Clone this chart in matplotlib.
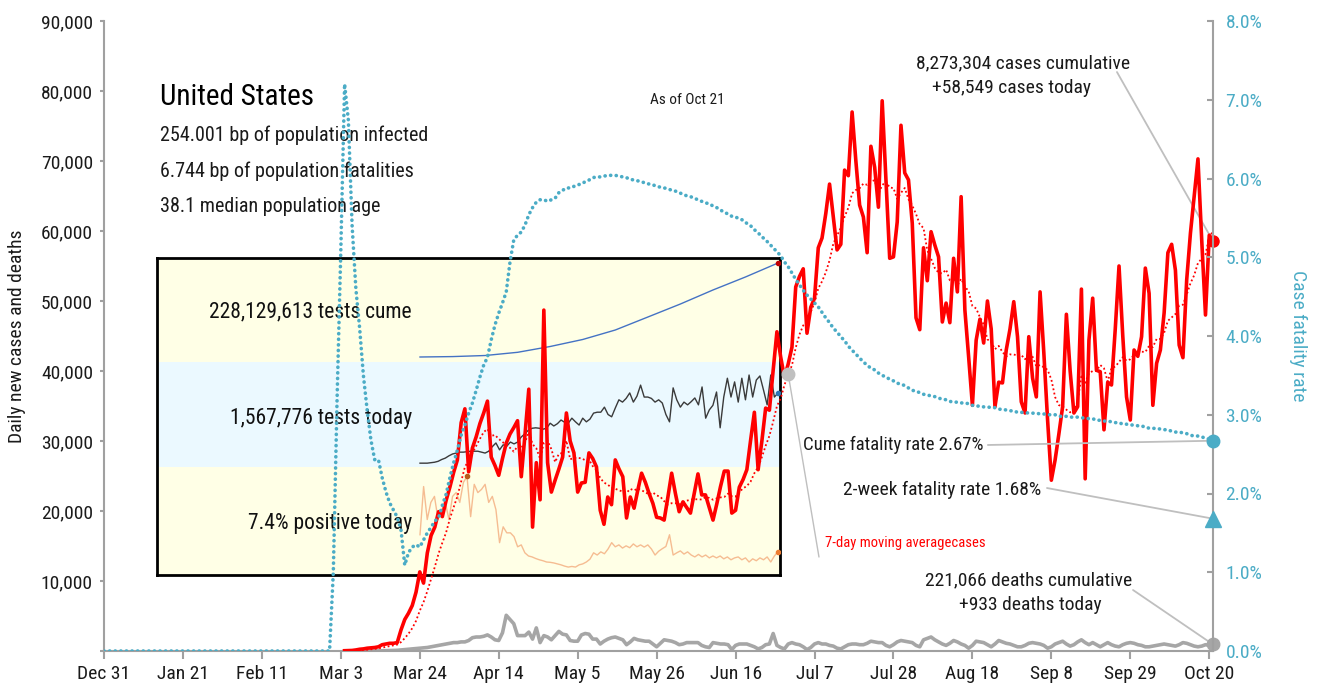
import matplotlib.pyplot as plt
import matplotlib.font_manager as fm
import matplotlib.ticker as mticker
import numpy as np
import pandas as pd

# =============================================================================
# DATA
# =============================================================================

# daily new cases, thousands, from Mar 4 to Oct 21
cases_start = "2020-03-04"
cases_k = [
    0.04, 0.06, 0.08, 0.15, 0.25, 0.3, 0.4, 0.45, 0.5, 0.6, 0.9, 1.0, 1.1, 1.1, 1.2,
    3.0, 4.5, 5.4, 6.5, 8.4, 11.3, 9.7, 14.0, 16.5, 17.7, 19.9, 19.2, 21.5, 23.4, 25.5,
    27.3, 32.6, 34.6, 25.6, 29.0, 30.6, 32.5, 34.0, 35.7,
    27.7, 26.5, 25.1, 27.5, 29.7, 31.0, 31.9, 32.9, 24.9, 31.0, 37.4, 17.7, 26.9, 21.6,
    48.7, 26.9, 22.7, 24.4, 26.0, 27.7, 34.0, 30.0, 28.3, 22.7,
    24.0, 24.1, 28.3, 27.5, 26.3, 20.1, 18.1, 22.0, 20.9, 27.3, 26.0, 24.9, 19.0, 22.0,
    20.4, 23.0, 25.4, 24.1, 22.5, 21.1, 19.1, 19.0, 18.7, 22.0, 25.4, 22.5, 19.9, 21.3,
    20.5, 19.7, 22.5, 25.3, 22.3, 22.3, 20.5, 18.7, 21.0, 23.5, 25.7, 25.7, 19.7, 20.1,
    23.4, 24.5, 25.9, 30.1, 34.1, 25.9, 30.0,
    34.7, 34.4, 40.1, 45.6, 42.0, 39.1, 41.0, 43.4, 52.0, 53.5, 54.6, 45.4, 49.1, 50.4,
    57.6, 59.0, 62.5, 66.7, 62.0, 57.3, 58.1, 68.7, 67.9, 77.0, 70.0, 63.7, 62.0, 56.9,
    72.1, 69.1, 63.4, 78.6, 67.3, 56.1, 56.3, 61.3, 75.1, 68.3, 67.3, 61.1,
    47.6, 45.9, 57.6, 52.9, 59.9, 58.0, 56.3, 47.0, 49.7, 46.9, 56.1, 51.3, 64.9, 48.7,
    42.0, 35.1, 44.4, 47.4, 44.0, 50.0, 46.0, 34.9, 38.4, 38.3, 43.0, 46.0, 49.9, 44.9,
    35.6, 34.0, 44.9, 39.0, 36.3, 51.3, 42.6, 33.0, 24.4, 27.3, 31.0, 34.9,
    48.1, 40.0, 34.0, 34.9, 51.7, 24.6, 44.4, 50.4, 40.1, 39.9, 31.6, 38.4, 38.0, 46.0,
    55.0, 45.0, 36.3, 33.0, 43.0, 42.1, 44.9, 54.7, 51.1, 35.1, 41.1, 43.0, 48.3, 56.9,
    58.1, 54.4, 43.7, 41.9, 53.0, 59.7, 65.0, 70.3, 58.7, 48.0, 59.4, 58.549,
]

# daily deaths, thousands, same dates as cases
deaths_k = [
    0, 0, 0, 0, 0, 0, 0, 0, 0,
    0.02, 0.03, 0.05, 0.06, 0.08, 0.1, 0.15, 0.2, 0.25, 0.3,
    0.35, 0.4, 0.45, 0.5, 0.6, 0.7, 0.8, 0.9, 1.0, 1.1,
    1.2, 1.2, 1.3, 1.3, 1.5, 1.9, 2.0, 2.0, 2.1, 2.3,
    2.0, 1.6, 1.5, 2.6, 5.1, 4.5, 3.9, 2.2, 2.2, 2.2,
    2.7, 1.7, 3.3, 1.2, 2.2, 2.0, 1.6, 2.2, 2.8, 2.4,
    2.3, 1.5, 1.4, 1.4, 2.3, 2.5, 2.4, 1.7, 1.7, 1.0,
    1.4, 1.7, 1.9, 2.0, 1.8, 1.6, 0.9, 1.3, 1.8, 1.6,
    1.5, 1.4, 1.4, 1.0, 0.6, 1.1, 1.6, 1.5, 1.4, 1.2,
    0.9, 1.0, 1.2, 1.2, 1.2, 1.2, 0.8, 0.6, 0.5, 1.2,
    1.1, 1.0, 1.0, 0.9, 0.2, 0.8, 1.0, 1.0, 1.0, 0.8,
    0.6, 0.3, 0.5, 0.9, 1.0, 2.5, 0.8, 0.5, 0.3, 1.0,
    1.2, 1.0, 0.9, 0.6, 0.2, 0.5, 1.0, 1.2, 1.0, 1.0,
    0.8, 0.7, 0.4, 0.3, 0.6, 0.9, 1.0, 1.0, 0.9, 0.9,
    1.1, 1.4, 1.3, 1.2, 1.2, 0.8, 0.6, 0.9, 1.3, 1.5,
    1.4, 1.3, 1.2, 0.8, 0.6, 1.6, 1.8, 2.0, 1.6, 1.3,
    1.0, 0.8, 1.1, 1.5, 1.3, 1.0, 0.8, 0.4, 0.8, 1.4,
    1.3, 1.2, 0.9, 0.6, 1.0, 1.5, 1.3, 1.1, 1.0, 0.8,
    0.6, 0.6, 0.8, 1.1, 1.2, 1.1, 1.0, 0.8, 0.4, 0.6,
    1.0, 1.2, 1.4, 1.0, 0.7, 0.9, 1.3, 1.6, 1.2, 0.9,
    1.2, 0.9, 0.6, 0.9, 1.2, 0.9, 0.7, 0.6, 0.9, 1.1,
    1.2, 1.1, 0.9, 0.8, 0.6, 0.6, 0.7, 0.8, 0.9, 1.0,
    0.9, 0.8, 0.7, 0.9, 1.2, 1.1, 0.9, 0.7, 0.6, 0.7,
    0.9, 0.8, 0.933,
]

# cumulative case fatality rate, %, daily from Dec 31 (zero until Feb 29)
cfr_start = "2019-12-31"
cfr_pct = [0.0] * 60 + [
    0.0, 1.0, 3.2, 5.1, 7.2, 6.74, 5.4, 4.6, 4.1, 3.5, 3.06, 2.68, 2.43, 2.43, 2.2,
    2.02, 1.88, 1.79, 1.70, 1.54, 1.09,
    1.25, 1.32, 1.35, 1.32, 1.41, 1.50, 1.57, 1.65, 1.69, 1.85, 1.99, 2.2, 2.39, 2.55,
    2.74, 2.87, 3.02, 3.15, 3.31, 3.48, 3.63, 3.73, 3.95, 4.14, 4.29, 4.42, 4.56,
    4.94, 5.22, 5.28, 5.32, 5.41, 5.54, 5.63, 5.70, 5.73, 5.73, 5.71, 5.73, 5.75, 5.82,
    5.85, 5.88, 5.88, 5.90, 5.92, 5.93, 5.96, 5.98, 6.01, 6.02, 6.02, 6.03, 6.04,
    6.04, 6.04, 6.03, 6.02, 6.01, 5.99, 5.98, 5.97, 5.96, 5.94, 5.93, 5.92, 5.90, 5.89,
    5.88, 5.87, 5.85, 5.84, 5.82, 5.80, 5.78, 5.77, 5.75, 5.73, 5.71, 5.69, 5.68, 5.65,
    5.63, 5.60, 5.57, 5.55, 5.52, 5.51, 5.49,
    5.47, 5.43, 5.40, 5.35, 5.31, 5.26, 5.22, 5.17, 5.12, 5.07, 5.02, 4.94, 4.88, 4.80,
    4.72, 4.65, 4.58, 4.52, 4.47, 4.42, 4.37, 4.30, 4.23, 4.17, 4.10, 4.05, 3.99, 3.94,
    3.87, 3.82, 3.77, 3.72, 3.67, 3.63, 3.59, 3.57, 3.53, 3.50, 3.48, 3.45,
    3.43, 3.40, 3.39, 3.37, 3.34, 3.31, 3.30, 3.28, 3.26, 3.25, 3.24, 3.23, 3.21, 3.20,
    3.19, 3.17, 3.16, 3.16, 3.15, 3.15, 3.14, 3.12, 3.11, 3.11, 3.10, 3.10, 3.09, 3.09,
    3.07, 3.07, 3.06, 3.05, 3.05, 3.03, 3.03, 3.03, 3.02, 3.02, 3.02, 3.01,
    3.01, 3.00, 3.00, 3.00, 2.98, 2.98, 2.98, 2.97, 2.97, 2.97, 2.96, 2.96, 2.95, 2.95,
    2.93, 2.93, 2.92, 2.92, 2.91, 2.90, 2.90, 2.88, 2.88, 2.87, 2.87, 2.86, 2.86, 2.84,
    2.83, 2.83, 2.82, 2.82, 2.81, 2.81, 2.79, 2.78, 2.78, 2.77, 2.76, 2.74, 2.73, 2.73,
    2.72, 2.70, 2.69, 2.67,
]
two_week_cfr = 1.68
ma_marker_date = "2020-06-30"

# inset: testing (equally spaced readings across the inset)
tests_cume_m = [0, 1.0, 3.6, 11.4, 25.5, 42.5, 65.5, 97, 128.6, 162.6, 194.2, 228.13]
tests_cume_step = 9
tests_today_m = [
    0.04, 0.04, 0.04, 0.05, 0.06, 0.08, 0.12, 0.15, 0.2, 0.24,
    0.26, 0.28, 0.28, 0.29, 0.3, 0.3, 0.3, 0.28, 0.26, 0.3,
    0.4, 0.48, 0.33, 0.44, 0.41, 0.5, 0.46, 0.5, 0.61, 0.68,
    0.76, 0.8, 0.81, 0.8, 0.78, 0.8, 0.91, 0.85, 0.9, 0.98,
    0.93, 0.91, 1.02, 0.94, 0.87, 1.02, 0.94, 1.0, 1.13, 1.15,
    1.15, 1.26, 1.1, 1.05, 1.24, 1.42, 1.37, 1.45, 1.57, 1.37,
    1.5, 1.74, 1.48, 1.48, 1.45, 1.37, 1.42, 1.35, 1.1, 0.94,
    1.68, 1.42, 1.26, 1.37, 1.31, 1.38, 1.46, 1.31, 1.7, 1.02,
    1.2, 1.3, 1.59, 0.81, 1.48, 1.89, 1.48, 1.81, 1.37, 1.89,
    1.42, 1.96, 1.48, 1.85, 1.94, 1.63, 1.31, 1.96, 1.48, 1.568,
]
positive_pct = [
    12.7, 27.9, 17.5, 22.9, 24.8, 17.5, 20.6, 22.9, 17.5, 24.8,
    26.0, 22.9, 29.2, 31.1, 18.4, 28.6, 26.0, 27.0, 28.6, 22.9,
    24.8, 20.6, 10.2, 15.2, 13.3, 13.3, 12.1, 8.9, 9.5, 7.0,
    6.0, 5.7, 5.2, 4.8, 4.5, 4.1, 4.0, 3.8, 3.5, 3.2,
    2.8, 2.5, 2.7, 2.5, 3.2, 3.5, 4.1, 5.0, 7.0, 6.3,
    7.3, 6.7, 8.2, 10.2, 8.9, 9.5, 8.5, 9.2, 8.6, 9.8,
    8.9, 9.5, 8.8, 9.5, 8.2, 6.3, 7.5, 8.3, 9.0, 12.7,
    6.3, 7.0, 7.6, 6.6, 7.3, 6.3, 5.7, 6.5, 5.7, 6.3,
    5.4, 6.0, 5.4, 6.0, 5.1, 5.7, 4.8, 5.4, 5.7, 4.8,
    5.4, 4.1, 5.1, 4.5, 5.4, 4.8, 5.7, 4.1, 6.0, 7.4,
]

info_lines = ["254.001 bp of population infected",
              "6.744 bp of population fatalities",
              "38.1 median population age"]
inset_labels = ["228,129,613 tests cume", "1,567,776 tests today", "7.4% positive today"]

x_ticks = pd.date_range("2019-12-31", "2020-10-20", freq="21D")

# =============================================================================
# STYLE
# =============================================================================
names = {f.name for f in fm.fontManager.ttflist}
narrow = next((n for n in ["Liberation Sans Narrow", "Roboto Condensed",
                           "Open Sans Condensed"] if n in names), "DejaVu Sans")
plt.rcParams["font.family"] = [narrow, "DejaVu Sans"]

RED = "#FF0000"
TEAL = "#4BACC6"
GREY = "#A6A6A6"
LEAD = "#BFBFBF"
AXC = "#A0A0A0"

W, H = 1318, 688
fig = plt.figure(figsize=(W / 100, H / 100), dpi=100)


def px_rect(x0, y0, x1, y1):
    # pixel box (top-left origin) -> figure fraction rect
    return [x0 / W, 1 - y1 / H, (x1 - x0) / W, (y1 - y0) / H]


def place(axis, v0, f0, v1, f1):
    # set ylim so that value v0 sits at axes fraction f0 and v1 at f1
    span = (v1 - v0) / (f1 - f0)
    lo = v0 - f0 * span
    axis.set_ylim(lo, lo + span)


# =============================================================================
# INSET (testing panel)
# =============================================================================
ins = fig.add_axes(px_rect(157, 258, 780, 575), zorder=0)
n_in = len(tests_today_m)
ppi = (778 - 420) / (n_in - 1)
ins.set_xlim(-(420 - 157) / ppi, (n_in - 1) + 2 / ppi)
ins.set_ylim(0, 1)
ins.axhspan(0.672, 1.0, color="#FFFFE6", lw=0)
ins.axhspan(0.341, 0.672, color="#EBF9FF", lw=0)
ins.axhspan(0.0, 0.341, color="#FFFFE6", lw=0)
ins.set_xticks([])
ins.set_yticks([])
for s in ins.spines.values():
    s.set_color("black")
    s.set_linewidth(2)
for yf, txt in zip([0.830, 0.495, 0.161], inset_labels):
    ins.text(0.409, yf, txt, transform=ins.transAxes, ha="right", va="center",
             fontsize=15.5, color="#111111")

idx = np.arange(n_in)

t_cume = ins.twinx()
t_cume.axis("off")
cume_x = np.arange(0, n_in, tests_cume_step)
t_cume.plot(cume_x, tests_cume_m, color="#4472C4", lw=1)
t_cume.plot(cume_x[-1], tests_cume_m[-1], "o", color="#C00000", ms=3)
place(t_cume, 0, 0.6877, tests_cume_m[-1], 0.9842)

t_today = ins.twinx()
t_today.axis("off")
t_today.plot(idx, tests_today_m, color="#3A3A3A", lw=1)
t_today.plot(idx[-1], tests_today_m[-1], "o", color="#2E75B6", ms=3)
place(t_today, 0, 0.347, tests_today_m[-1], 0.5741)

t_pos = ins.twinx()
t_pos.axis("off")
t_pos.plot(idx, positive_pct, color="#F4B183", lw=1, alpha=0.85)
pk = int(np.argmax(positive_pct))
t_pos.plot(idx[pk], positive_pct[pk], "o", color="#B85C1A", ms=3)
t_pos.plot(idx[-1], positive_pct[-1], "o", color="#ED7D31", ms=3)
t_pos.set_ylim(0, 100)

# =============================================================================
# MAIN CHART
# =============================================================================
ax = fig.add_axes(px_rect(104, 21, 1213, 651), zorder=1)
ax.patch.set_visible(False)
ax2 = ax.twinx()
ax2.set_zorder(2)
ax2.patch.set_visible(False)

cd = pd.date_range(cases_start, periods=len(cases_k))
cases = np.array(cases_k) * 1000
deaths = np.array(deaths_k) * 1000
ma = pd.Series(cases, index=cd).rolling(7, min_periods=1).mean()
fd = pd.date_range(cfr_start, periods=len(cfr_pct))

ax.plot(cd, deaths, color=GREY, lw=2.6, zorder=2)
ax.plot(cd, ma, color=RED, lw=1.3, ls=(0, (1, 1.4)), zorder=3)
ax.plot(cd, cases, color=RED, lw=2.6, zorder=4)
ax.plot(cd[-1], cases[-1], "o", color=RED, ms=8, zorder=5, clip_on=False)
ax.plot(cd[-1], deaths[-1], "o", color=GREY, ms=9, zorder=5, clip_on=False)
ma_date = pd.Timestamp(ma_marker_date)
ax.plot(ma_date, ma[ma_date], "o", color="#C0C0C0", ms=9, zorder=5)

ax2.plot(fd, cfr_pct, color=TEAL, lw=2.6, ls=(0, (0.05, 1.5)),
         dash_capstyle="round", zorder=3)
ax2.plot(fd[-1], cfr_pct[-1], "o", color=TEAL, ms=9, clip_on=False, zorder=5)
ax2.plot(fd[-1], two_week_cfr, "^", color=TEAL, ms=11, clip_on=False, zorder=5)

ax.set_xlim(pd.Timestamp("2019-12-31"), pd.Timestamp("2020-10-21"))
ax.set_ylim(0, 90000)
ax2.set_ylim(0, 8)

ax.set_xticks(x_ticks)
ax.set_xticklabels([f"{d:%b} {d.day}" for d in x_ticks])
ax.set_yticks(np.arange(0, 90001, 10000))
ax.yaxis.set_major_formatter(mticker.FuncFormatter(lambda v, p: "" if v == 0 else f"{v:,.0f}"))
ax2.set_yticks(np.arange(0, 8.01, 1))
ax2.yaxis.set_major_formatter(mticker.FuncFormatter(lambda v, p: f"{v:.1f}%"))

for a in (ax, ax2):
    for s in a.spines.values():
        s.set_color(AXC)
        s.set_linewidth(1.5)
    a.spines["top"].set_visible(False)
ax.spines["right"].set_visible(False)
ax2.spines["left"].set_visible(False)
ax2.spines["bottom"].set_visible(False)

ax.tick_params(axis="x", direction="out", length=6, width=1.5, color=AXC,
               labelsize=14, pad=4, labelcolor="#1A1A1A")
ax.tick_params(axis="y", direction="out", length=3, width=1.5, color=AXC,
               labelsize=14, pad=5, labelcolor="#1A1A1A")
ax2.tick_params(axis="y", direction="in", length=4, width=1.5, color=AXC,
                labelsize=14, pad=9, labelcolor=TEAL)

ax.set_ylabel("Daily new cases and deaths", fontsize=14, color="#1A1A1A")
ax.yaxis.set_label_coords((26 - 104) / 1109, 0.5)
ax2.set_ylabel("Case fatality rate", fontsize=14, color=TEAL, rotation=270, va="center")
ax2.yaxis.set_label_coords((1298 - 104) / 1109, 0.5)

# ---- header texts ----
ax.text(0.0505, 0.879, "United States", transform=ax.transAxes, fontsize=21,
        va="center", ha="left", color="black")
for yf, txt in zip([0.819, 0.762, 0.705], info_lines):
    ax.text(0.0505, yf, txt, transform=ax.transAxes, fontsize=14.5, va="center",
            ha="left", color="#1A1A1A")
ax.text(0.5257, 0.8746, "As of Oct 21", transform=ax.transAxes, fontsize=11,
        va="center", ha="center", color="#1A1A1A")

# ---- annotations ----
tk = dict(transform=ax.transAxes, fontsize=14, va="center", color="#1A1A1A")
ax.text(0.8287, 0.932, f"{8273304:,} cases cumulative", ha="center", **tk)
ax.text(0.8187, 0.894, f"+{cases[-1]:,.0f} cases today", ha="center", **tk)
ax.text(0.834, 0.1127, f"{221066:,} deaths cumulative", ha="center", **tk)
ax.text(0.835, 0.073, f"+{deaths[-1]:,.0f} deaths today", ha="center", **tk)
ax.text(0.7935, 0.327, f"Cume fatality rate {cfr_pct[-1]:.2f}%", ha="right",
        **dict(tk, fontsize=13.5))
ax.text(0.845, 0.2556, f"2-week fatality rate {two_week_cfr:.2f}%", ha="right", **tk)
ax.text(0.650, 0.1714, "7-day moving averagecases", transform=ax.transAxes,
        fontsize=10.5, va="center", ha="left", color=RED)

lead = dict(arrowstyle="-", color=LEAD, lw=1.3, shrinkA=0, shrinkB=0)
ax.annotate("", xy=(cd[-1], cases[-1]), xytext=(0.9134, 0.919),
            textcoords="axes fraction", arrowprops=lead, annotation_clip=False)
ax.annotate("", xy=(cd[-1], deaths[-1]), xytext=(0.9279, 0.0968),
            textcoords="axes fraction", arrowprops=lead, annotation_clip=False)
ax2.annotate("", xy=(fd[-1], cfr_pct[-1]), xytext=(0.797, 0.327),
             textcoords="axes fraction", arrowprops=lead, annotation_clip=False)
ax2.annotate("", xy=(fd[-1], two_week_cfr), xytext=(0.8503, 0.2587),
             textcoords="axes fraction", arrowprops=lead, annotation_clip=False)
ax.annotate("", xy=(ma_date, ma[ma_date]), xytext=(0.6447, 0.1492),
            textcoords="axes fraction", arrowprops=dict(lead, lw=1.0))

fig.savefig("out.png", dpi=100)
